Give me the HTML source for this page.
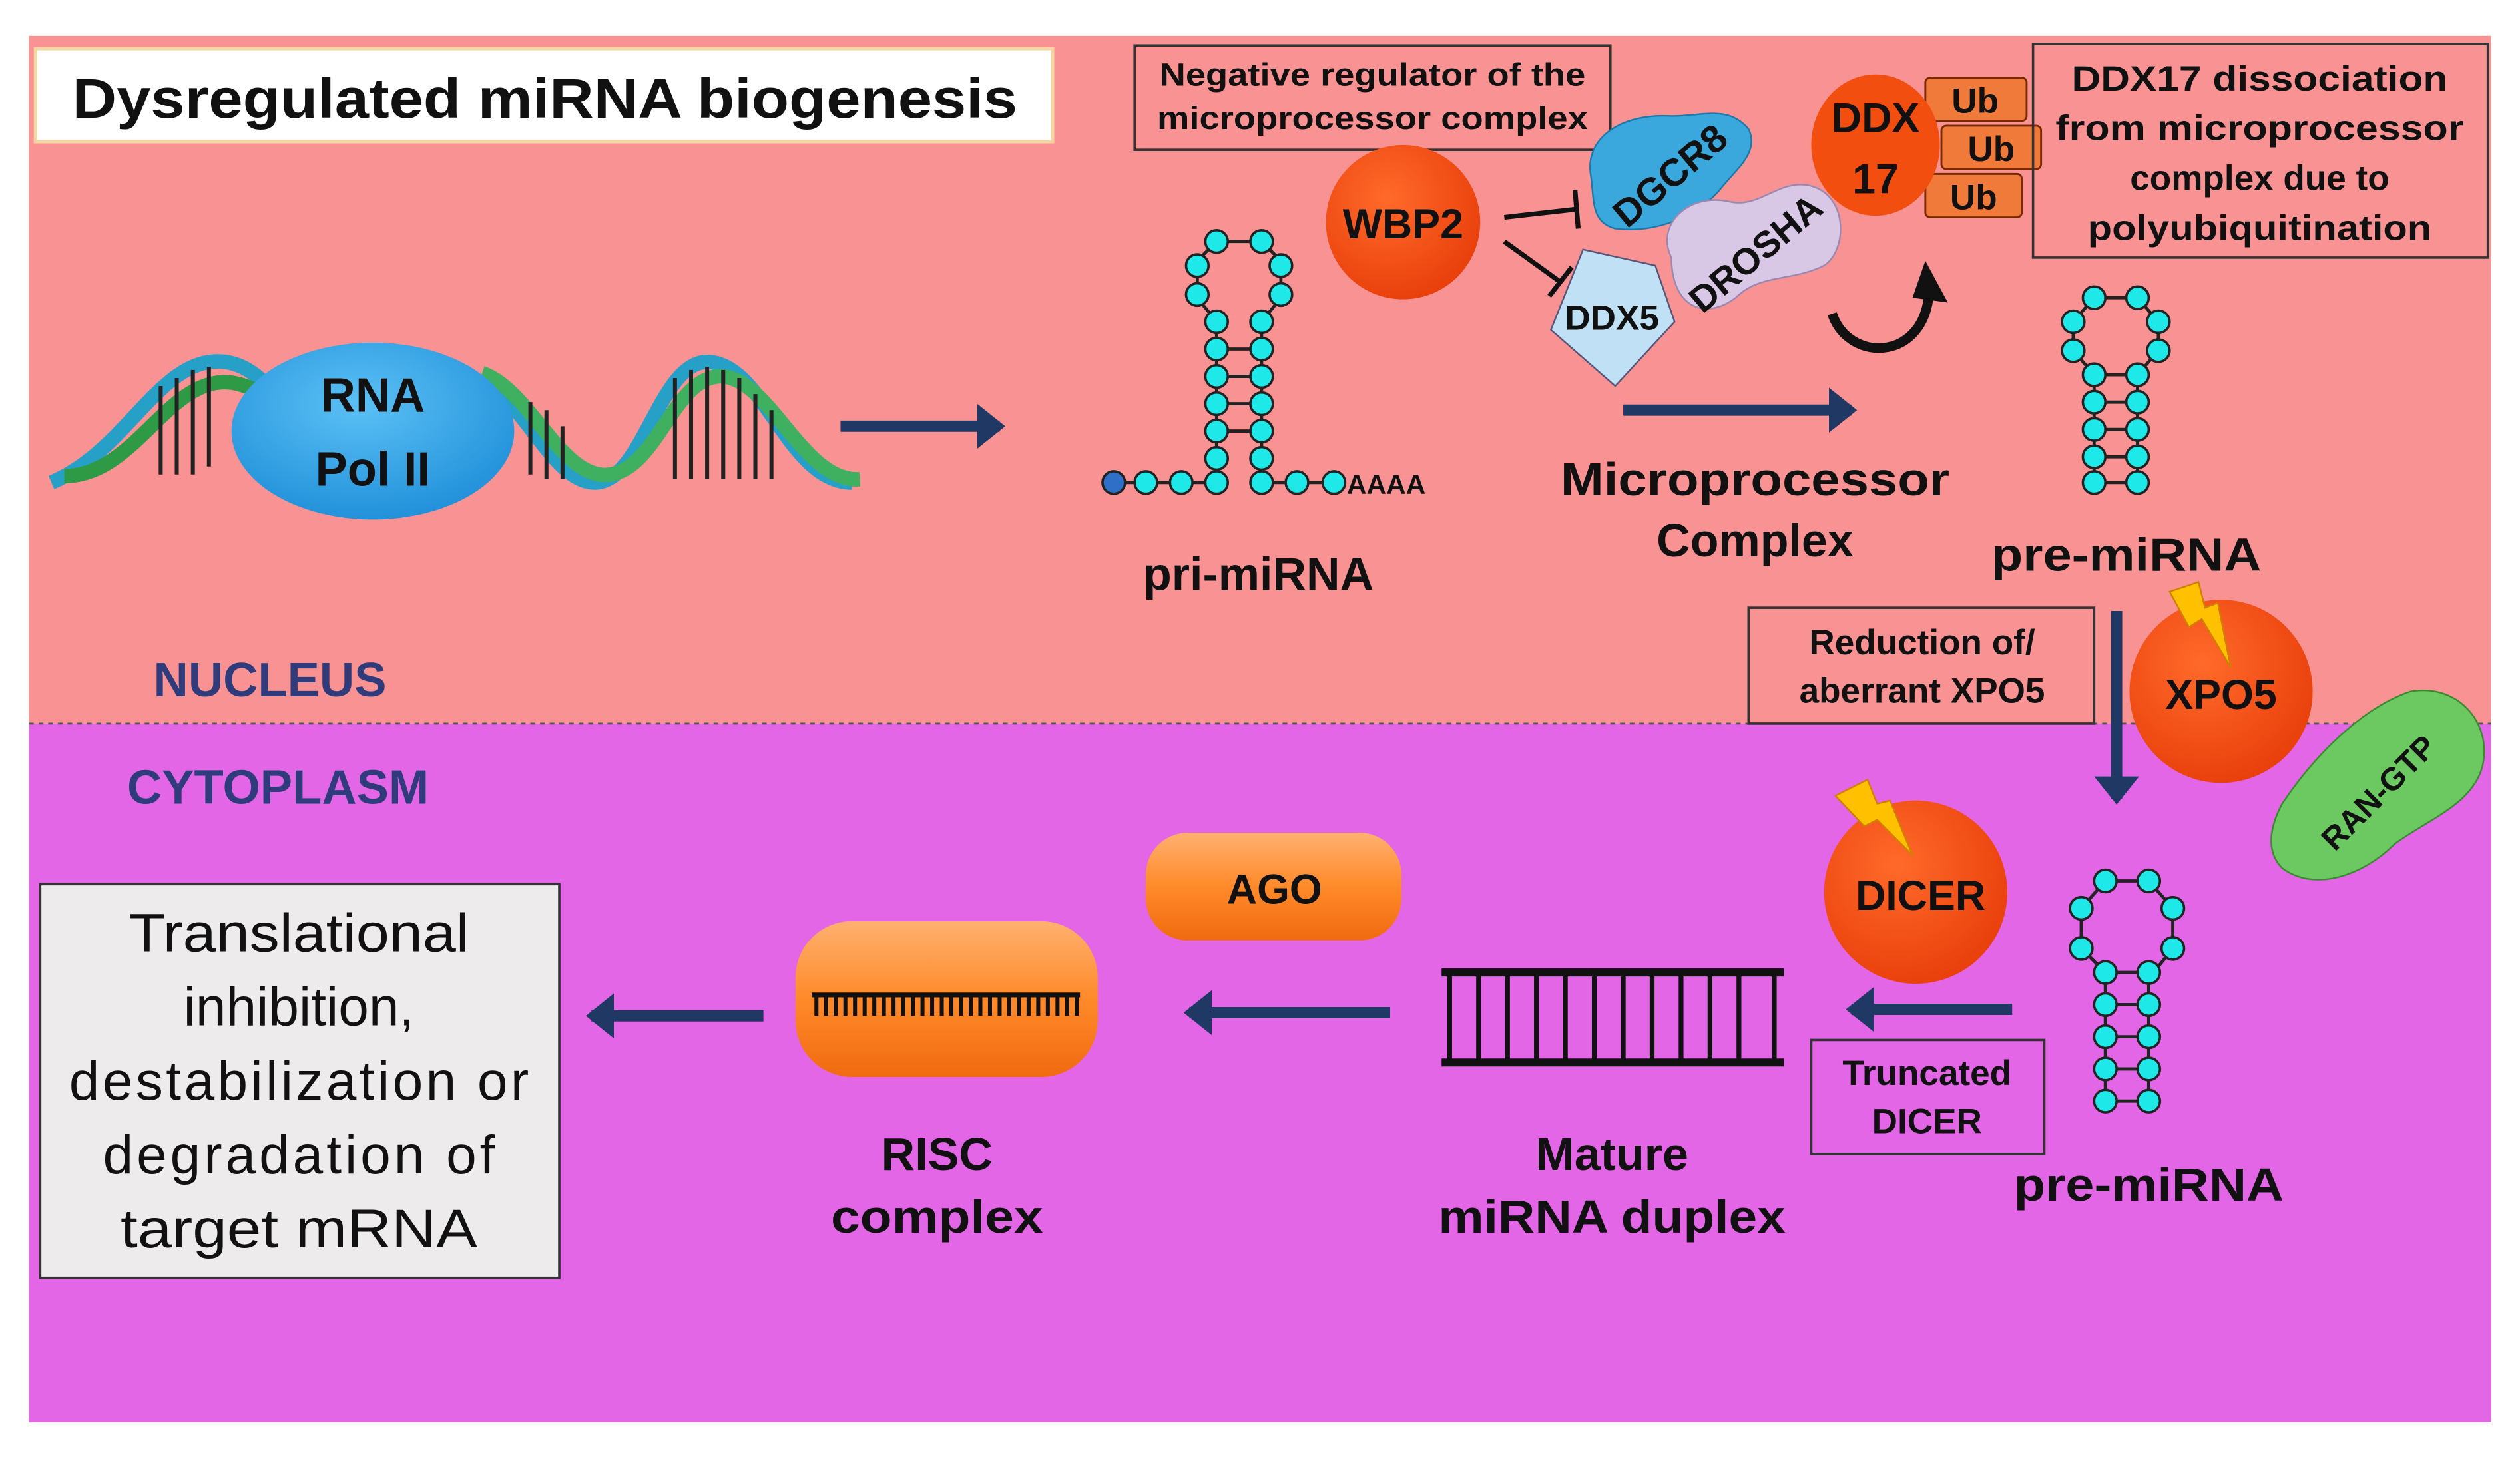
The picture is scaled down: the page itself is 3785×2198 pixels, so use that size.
<!DOCTYPE html>
<html><head><meta charset="utf-8"><style>
html,body{margin:0;padding:0;background:#fff;}
svg{display:block;font-family:"Liberation Sans",sans-serif;}
</style></head><body>
<svg width="3785" height="2198" viewBox="0 0 1568 910" xmlns="http://www.w3.org/2000/svg">
<defs>
<marker id="ah" markerWidth="4" markerHeight="4" refX="2" refY="2" orient="auto" markerUnits="strokeWidth"><path d="M0,0 L2.5,2 L0,4z" fill="#1F3864"/></marker>
<radialGradient id="org" cx="40%" cy="35%" r="70%"><stop offset="0" stop-color="#FF6A2A"/><stop offset="1" stop-color="#E83E0A"/></radialGradient>
<linearGradient id="ago" x1="0" y1="0" x2="0" y2="1"><stop offset="0" stop-color="#FFB070"/><stop offset="0.5" stop-color="#FF8A2A"/><stop offset="1" stop-color="#F06A10"/></linearGradient>
<radialGradient id="pol" cx="45%" cy="35%" r="70%"><stop offset="0" stop-color="#5BC0F5"/><stop offset="1" stop-color="#1E8ED8"/></radialGradient>
</defs>
<rect x="18" y="22" width="1532" height="428" fill="#F99393"/>
<rect x="18" y="450" width="1532" height="435" fill="#E266E6"/>
<line x1="18" y1="450" x2="1550" y2="450" stroke="#555" stroke-dasharray="3,3" stroke-width="1.2"/>

<rect x="22" y="30" width="633" height="58" fill="#fff" stroke="#F4D7A0" stroke-width="2"/>
<text x="45" y="73" font-size="35" font-weight="bold" fill="#111" textLength="588" lengthAdjust="spacingAndGlyphs">Dysregulated miRNA biogenesis</text>

<!-- DNA -->
<g stroke-width="9" fill="none">
<path d="M32,300 C80,280 100,220 140,225 C180,230 190,300 230,300" stroke="#27A0C8"/>
<path d="M40,296 C85,296 105,232 145,238 C185,245 200,300 240,296" stroke="#2E9A45"/>
<path d="M290,240 C320,230 340,300 370,300 C400,300 410,225 440,225 C475,225 490,300 530,300" stroke="#27A0C8"/>
<path d="M300,232 C330,242 350,300 380,295 C410,290 420,232 450,234 C480,237 500,300 535,298" stroke="#3FAF60"/>
</g>
<g stroke="#222" stroke-width="2.5">
<line x1="100" y1="240" x2="100" y2="295"/><line x1="110" y1="235" x2="110" y2="295"/><line x1="120" y1="230" x2="120" y2="295"/><line x1="130" y1="228" x2="130" y2="290"/>
<line x1="330" y1="250" x2="330" y2="295"/><line x1="340" y1="255" x2="340" y2="298"/><line x1="350" y1="265" x2="350" y2="298"/>
<line x1="420" y1="235" x2="420" y2="298"/><line x1="430" y1="230" x2="430" y2="298"/><line x1="440" y1="228" x2="440" y2="298"/><line x1="450" y1="230" x2="450" y2="298"/><line x1="460" y1="235" x2="460" y2="298"/><line x1="470" y1="245" x2="470" y2="298"/><line x1="480" y1="255" x2="480" y2="298"/>
</g>
<ellipse cx="232" cy="268" rx="88" ry="55" fill="url(#pol)"/>
<text x="232" y="256" font-size="30" font-weight="bold" text-anchor="middle" fill="#111">RNA</text>
<text x="232" y="302" font-size="30" font-weight="bold" text-anchor="middle" fill="#111">Pol II</text>

<g stroke="#1F3864" stroke-width="7" fill="none" marker-end="url(#ah)">
<line x1="523" y1="265" x2="622" y2="265"/>
<line x1="1010" y1="255" x2="1152" y2="255"/>
<line x1="1317" y1="380" x2="1317" y2="497"/>
<line x1="1252" y1="628" x2="1152" y2="628"/>
<line x1="865" y1="630" x2="740" y2="630"/>
<line x1="475" y1="632" x2="368" y2="632"/>
</g>

<!-- pri-miRNA -->
<g stroke="#222" stroke-width="2" fill="none">
<path d="M757,200 L757,285 M785,200 L785,285 M757,217 L785,217 M757,234 L785,234 M757,251 L785,251 M757,268 L785,268 M693,300 L757,300 M785,300 L830,300 M757,285 L757,300 M785,285 L785,300"/>
<path d="M757,200 L745,185 L745,162 L757,150 L785,150 L797,162 L797,185 L785,200"/>
</g>
<g fill="#1EE8E8" stroke="#222" stroke-width="1.5">
<circle cx="757" cy="150" r="7"/><circle cx="785" cy="150" r="7"/><circle cx="745" cy="165" r="7"/><circle cx="797" cy="165" r="7"/><circle cx="745" cy="183" r="7"/><circle cx="797" cy="183" r="7"/>
<circle cx="757" cy="200" r="7"/><circle cx="785" cy="200" r="7"/><circle cx="757" cy="217" r="7"/><circle cx="785" cy="217" r="7"/><circle cx="757" cy="234" r="7"/><circle cx="785" cy="234" r="7"/><circle cx="757" cy="251" r="7"/><circle cx="785" cy="251" r="7"/><circle cx="757" cy="268" r="7"/><circle cx="785" cy="268" r="7"/><circle cx="757" cy="285" r="7"/><circle cx="785" cy="285" r="7"/>
<circle cx="713" cy="300" r="7"/><circle cx="735" cy="300" r="7"/><circle cx="757" cy="300" r="7"/><circle cx="785" cy="300" r="7"/><circle cx="807" cy="300" r="7"/><circle cx="830" cy="300" r="7"/>
<circle cx="693" cy="300" r="7" fill="#2F6FC8"/>
</g>
<text x="838" y="307" font-size="17" font-weight="bold" fill="#111">AAAA</text>
<text x="783" y="367" font-size="29" font-weight="bold" text-anchor="middle" fill="#111">pri-miRNA</text>

<rect x="706" y="28" width="296" height="65" fill="none" stroke="#333" stroke-width="1.5"/>
<text x="854" y="53" font-size="20" font-weight="bold" text-anchor="middle" fill="#111" textLength="265" lengthAdjust="spacingAndGlyphs">Negative regulator of the</text>
<text x="854" y="80" font-size="20" font-weight="bold" text-anchor="middle" fill="#111" textLength="268" lengthAdjust="spacingAndGlyphs">microprocessor complex</text>

<circle cx="873" cy="138" r="48" fill="url(#org)"/>
<text x="873" y="148" font-size="26" font-weight="bold" text-anchor="middle" fill="#111">WBP2</text>
<g stroke="#111" stroke-width="3">
<line x1="936" y1="135" x2="980" y2="130"/><line x1="980" y1="118" x2="982" y2="142"/>
<line x1="936" y1="150" x2="972" y2="176"/><line x1="964" y1="184" x2="978" y2="166"/>
</g>
<path d="M990,110 C985,85 1010,70 1040,72 C1060,72 1075,65 1088,80 C1095,95 1080,105 1070,118 C1055,135 1030,145 1005,142 C990,138 992,125 990,110z" fill="#3AA8DC" stroke="#1A7AAA" stroke-width="1"/>
<text x="1040" y="117" font-size="24" font-weight="bold" text-anchor="middle" fill="#111" transform="rotate(-40 1040 110)">DGCR8</text>
<path d="M1040,160 C1030,140 1050,120 1075,125 C1095,130 1105,112 1125,115 C1150,120 1150,155 1135,165 C1115,175 1095,170 1080,185 C1060,200 1040,190 1040,160z" fill="#D8C8E6" stroke="#9A88B0" stroke-width="1"/>
<text x="1093" y="165" font-size="23" font-weight="bold" text-anchor="middle" fill="#111" transform="rotate(-40 1093 158)">DROSHA</text>
<path d="M985,155 L1030,165 L1042,200 L1005,240 L965,205 z" fill="#BFE0F5" stroke="#557" stroke-width="1"/>
<text x="1003" y="205" font-size="22" font-weight="bold" text-anchor="middle" fill="#111">DDX5</text>
<g stroke="#7A2A00" stroke-width="1.2" fill="#F07A3A">
<rect x="1198" y="48" width="63" height="27" rx="3"/><rect x="1208" y="78" width="62" height="27" rx="3"/><rect x="1198" y="108" width="60" height="27" rx="3"/>
</g>
<ellipse cx="1167" cy="90" rx="40" ry="44" fill="#F24E10"/>
<text x="1167" y="82" font-size="26" font-weight="bold" text-anchor="middle" fill="#111">DDX</text>
<text x="1167" y="120" font-size="26" font-weight="bold" text-anchor="middle" fill="#111">17</text>
<text x="1229" y="70" font-size="22" font-weight="bold" text-anchor="middle" fill="#111">Ub</text>
<text x="1239" y="100" font-size="22" font-weight="bold" text-anchor="middle" fill="#111">Ub</text>
<text x="1228" y="130" font-size="22" font-weight="bold" text-anchor="middle" fill="#111">Ub</text>
<path d="M1140,195 C1150,225 1195,225 1200,185" stroke="#111" stroke-width="6" fill="none"/>
<path d="M1190,185 L1198,162 L1212,188 z" fill="#111"/>
<rect x="1265" y="27" width="283" height="133" fill="none" stroke="#333" stroke-width="1.5"/>
<g font-size="22" font-weight="bold" text-anchor="middle" fill="#111">
<text x="1406" y="56" textLength="234" lengthAdjust="spacingAndGlyphs">DDX17 dissociation</text><text x="1406" y="87" textLength="254" lengthAdjust="spacingAndGlyphs">from microprocessor</text><text x="1406" y="118">complex due to</text><text x="1406" y="149" textLength="214" lengthAdjust="spacingAndGlyphs">polyubiquitination</text>
</g>
<text x="1092" y="308" font-size="29" font-weight="bold" text-anchor="middle" fill="#111" textLength="242" lengthAdjust="spacingAndGlyphs">Microprocessor</text>
<text x="1092" y="346" font-size="29" font-weight="bold" text-anchor="middle" fill="#111">Complex</text>

<g stroke="#222" stroke-width="2" fill="none">
<path d="M1303,233 L1290,218 L1290,200 L1303,185 L1330,185 L1343,200 L1343,218 L1330,233 L1303,233 M1303,233 L1303,300 M1330,233 L1330,300 M1303,250 L1330,250 M1303,267 L1330,267 M1303,284 L1330,284 M1303,300 L1330,300"/>
</g>
<g fill="#1EE8E8" stroke="#222" stroke-width="1.5">
<circle cx="1303" cy="185" r="7"/><circle cx="1330" cy="185" r="7"/><circle cx="1290" cy="200" r="7"/><circle cx="1343" cy="200" r="7"/><circle cx="1290" cy="218" r="7"/><circle cx="1343" cy="218" r="7"/>
<circle cx="1303" cy="233" r="7"/><circle cx="1330" cy="233" r="7"/><circle cx="1303" cy="250" r="7"/><circle cx="1330" cy="250" r="7"/><circle cx="1303" cy="267" r="7"/><circle cx="1330" cy="267" r="7"/><circle cx="1303" cy="284" r="7"/><circle cx="1330" cy="284" r="7"/><circle cx="1303" cy="300" r="7"/><circle cx="1330" cy="300" r="7"/>
</g>
<text x="1323" y="355" font-size="29" font-weight="bold" text-anchor="middle" fill="#111" textLength="168" lengthAdjust="spacingAndGlyphs">pre-miRNA</text>

<rect x="1088" y="378" width="215" height="72" fill="none" stroke="#333" stroke-width="1.5"/>
<text x="1196" y="407" font-size="22" font-weight="bold" text-anchor="middle" fill="#111">Reduction of/</text>
<text x="1196" y="437" font-size="22" font-weight="bold" text-anchor="middle" fill="#111">aberrant XPO5</text>

<path d="M1420,500 C1440,470 1470,440 1500,430 C1530,425 1550,450 1545,475 C1540,500 1510,510 1490,525 C1470,545 1440,555 1420,540 C1410,530 1412,515 1420,500z" fill="#6CC860" stroke="#3A8A30" stroke-width="1"/>
<text x="1480" y="500" font-size="20" font-weight="bold" text-anchor="middle" fill="#111" transform="rotate(-45 1480 493)">RAN-GTP</text>
<circle cx="1382" cy="430" r="57" fill="url(#org)"/>
<text x="1382" y="441" font-size="26" font-weight="bold" text-anchor="middle" fill="#111">XPO5</text>
<path d="M1350,368 L1368,362 L1372,378 L1380,375 L1388,415 L1370,385 L1362,390 z" fill="#FFC000" stroke="#D08000" stroke-width="1"/>

<text x="168" y="433" font-size="30" font-weight="bold" text-anchor="middle" fill="#2F3B7A">NUCLEUS</text>
<text x="173" y="500" font-size="30" font-weight="bold" text-anchor="middle" fill="#2F3B7A">CYTOPLASM</text>

<g stroke="#222" stroke-width="2" fill="none">
<path d="M1310,548 L1337,548 L1352,565 L1352,590 L1340,605 L1310,605 L1295,590 L1295,565 z M1310,605 L1310,685 M1337,605 L1337,685 M1310,625 L1337,625 M1310,645 L1337,645 M1310,665 L1337,665 M1310,685 L1337,685"/>
</g>
<g fill="#1EE8E8" stroke="#222" stroke-width="1.5">
<circle cx="1310" cy="548" r="7"/><circle cx="1337" cy="548" r="7"/><circle cx="1295" cy="565" r="7"/><circle cx="1352" cy="565" r="7"/><circle cx="1295" cy="590" r="7"/><circle cx="1352" cy="590" r="7"/>
<circle cx="1310" cy="605" r="7"/><circle cx="1337" cy="605" r="7"/><circle cx="1310" cy="625" r="7"/><circle cx="1337" cy="625" r="7"/><circle cx="1310" cy="645" r="7"/><circle cx="1337" cy="645" r="7"/><circle cx="1310" cy="665" r="7"/><circle cx="1337" cy="665" r="7"/><circle cx="1310" cy="685" r="7"/><circle cx="1337" cy="685" r="7"/>
</g>
<text x="1337" y="747" font-size="29" font-weight="bold" text-anchor="middle" fill="#111" textLength="168" lengthAdjust="spacingAndGlyphs">pre-miRNA</text>

<circle cx="1192" cy="555" r="57" fill="url(#org)"/>
<text x="1195" y="566" font-size="26" font-weight="bold" text-anchor="middle" fill="#111">DICER</text>
<path d="M1142,495 L1162,485 L1168,500 L1176,498 L1190,532 L1168,510 L1160,514 z" fill="#FFC000" stroke="#D08000" stroke-width="1"/>

<rect x="1127" y="647" width="145" height="71" fill="none" stroke="#333" stroke-width="1.5"/>
<text x="1199" y="675" font-size="22" font-weight="bold" text-anchor="middle" fill="#111">Truncated</text>
<text x="1199" y="705" font-size="22" font-weight="bold" text-anchor="middle" fill="#111">DICER</text>

<g stroke="#111" stroke-width="5">
<line x1="897" y1="605" x2="1110" y2="605"/><line x1="897" y1="661" x2="1110" y2="661"/>
</g>
<g stroke="#111" stroke-width="3">
<line x1="902" y1="605" x2="902" y2="661"/><line x1="920" y1="605" x2="920" y2="661"/><line x1="938" y1="605" x2="938" y2="661"/><line x1="956" y1="605" x2="956" y2="661"/><line x1="974" y1="605" x2="974" y2="661"/><line x1="992" y1="605" x2="992" y2="661"/><line x1="1010" y1="605" x2="1010" y2="661"/><line x1="1028" y1="605" x2="1028" y2="661"/><line x1="1046" y1="605" x2="1046" y2="661"/><line x1="1064" y1="605" x2="1064" y2="661"/><line x1="1082" y1="605" x2="1082" y2="661"/><line x1="1104" y1="605" x2="1104" y2="661"/>
</g>
<text x="1003" y="728" font-size="29" font-weight="bold" text-anchor="middle" fill="#111">Mature</text>
<text x="1003" y="767" font-size="29" font-weight="bold" text-anchor="middle" fill="#111" textLength="216" lengthAdjust="spacingAndGlyphs">miRNA duplex</text>

<rect x="713" y="518" width="159" height="67" rx="26" fill="url(#ago)"/>
<text x="793" y="562" font-size="26" font-weight="bold" text-anchor="middle" fill="#111">AGO</text>

<rect x="495" y="573" width="188" height="97" rx="35" fill="url(#ago)"/>
<line x1="505" y1="619" x2="672" y2="619" stroke="#111" stroke-width="3"/>
<path d="M508,619 v13 M514,619 v13 M520,619 v13 M526,619 v13 M532,619 v13 M538,619 v13 M544,619 v13 M550,619 v13 M556,619 v13 M562,619 v13 M568,619 v13 M574,619 v13 M580,619 v13 M586,619 v13 M592,619 v13 M598,619 v13 M604,619 v13 M610,619 v13 M616,619 v13 M622,619 v13 M628,619 v13 M634,619 v13 M640,619 v13 M646,619 v13 M652,619 v13 M658,619 v13 M664,619 v13 M670,619 v13" stroke="#111" stroke-width="2.5"/>
<text x="583" y="728" font-size="29" font-weight="bold" text-anchor="middle" fill="#111">RISC</text>
<text x="583" y="767" font-size="29" font-weight="bold" text-anchor="middle" fill="#111" textLength="132" lengthAdjust="spacingAndGlyphs">complex</text>

<rect x="25" y="550" width="323" height="245" fill="#EDEBEB" stroke="#333" stroke-width="1.5"/>
<g font-size="34" text-anchor="middle" fill="#111">
<text x="186" y="592" textLength="212" lengthAdjust="spacingAndGlyphs">Translational</text><text x="186" y="638">inhibition,</text><text x="186" y="684" textLength="286" lengthAdjust="spacing">destabilization or</text><text x="186" y="730" textLength="244" lengthAdjust="spacing">degradation of</text><text x="186" y="776" textLength="222" lengthAdjust="spacingAndGlyphs">target mRNA</text>
</g>
</svg>
</body></html>
